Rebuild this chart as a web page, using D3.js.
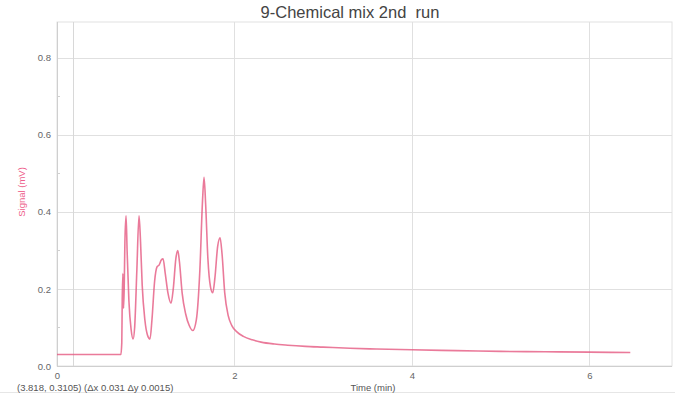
<!DOCTYPE html>
<html><head><meta charset="utf-8">
<script src="https://cdn.jsdelivr.net/npm/d3@7"></script>
<style>body{margin:0;background:#fff}svg{display:block;font-family:"Liberation Sans",Arial,sans-serif}text{white-space:pre}</style>
</head><body><svg id="c" width="675" height="398"></svg>
<script>
const title = "9-Chemical mix 2nd  run";
const xLabel = "Time (min)";
const yLabel = "Signal (mV)";
const cursorText = "(3.818, 0.3105) (\u0394x 0.031 \u0394y 0.0015)";
const xTicks = [0, 2, 4, 6];
const yTicks = [0, 0.2, 0.4, 0.6, 0.8];
const yMinorTicks = [0.1, 0.3, 0.5, 0.7];
const cursorTime = 0.18;
const times = [0, 0.72, 0.73, 0.735, 0.742, 0.75, 0.757, 0.765, 0.778, 0.79, 0.81, 0.835, 0.857, 0.875, 0.9, 0.924, 0.94, 0.96, 0.99, 1.02, 1.048, 1.07, 1.1, 1.127, 1.15, 1.175, 1.195, 1.22, 1.25, 1.285, 1.31, 1.34, 1.361, 1.38, 1.41, 1.45, 1.49, 1.53, 1.57, 1.61, 1.64, 1.657, 1.675, 1.7, 1.73, 1.755, 1.78, 1.81, 1.838, 1.86, 1.89, 1.93, 1.97, 2.03, 2.1, 2.2, 2.3, 2.45, 2.6, 2.8, 3.0, 3.3, 3.6, 4.0, 4.5, 5.0, 5.5, 6.0, 6.46];
const signal = [0.03, 0.03, 0.06, 0.17, 0.24, 0.15, 0.2, 0.32, 0.39, 0.30, 0.17, 0.095, 0.07, 0.10, 0.25, 0.39, 0.33, 0.21, 0.12, 0.08, 0.07, 0.12, 0.22, 0.257, 0.262, 0.275, 0.278, 0.24, 0.19, 0.163, 0.20, 0.28, 0.30, 0.27, 0.19, 0.135, 0.105, 0.092, 0.12, 0.25, 0.43, 0.49, 0.42, 0.28, 0.205, 0.19, 0.23, 0.31, 0.333, 0.29, 0.19, 0.13, 0.105, 0.088, 0.077, 0.068, 0.062, 0.057, 0.054, 0.051, 0.049, 0.046, 0.044, 0.042, 0.040, 0.038, 0.037, 0.036, 0.035];

const svg = d3.select("#c");
const L = 57, R = 672, T = 22, B = 366;
const x = d3.scaleLinear().domain([0, 6.93]).range([L, R]);
const y = d3.scaleLinear().domain([0, 0.893]).range([B, T]);

// frame
svg.append("rect").attr("x", L).attr("y", T).attr("width", R - L).attr("height", B - T)
  .attr("fill", "none").attr("stroke", "#e2e2e2");
svg.append("line").attr("x1", 0).attr("x2", 675).attr("y1", 392.5).attr("y2", 392.5).attr("stroke", "#e6e6e6");

// grid
const g = svg.append("g");
g.selectAll(".hg").data(yTicks).join("line")
  .attr("x1", L).attr("x2", R).attr("y1", d => Math.round(y(d)) + 0.5).attr("y2", d => Math.round(y(d)) + 0.5)
  .attr("stroke", d => d === 0 ? "#cfcfcf" : "#e0e0e0");
g.selectAll(".vg").data(xTicks.filter(d => d > 0)).join("line")
  .attr("y1", T).attr("y2", B).attr("x1", d => Math.round(x(d)) + 0.5).attr("x2", d => Math.round(x(d)) + 0.5)
  .attr("stroke", "#e0e0e0");
g.append("line").attr("y1", T).attr("y2", B).attr("x1", Math.round(x(cursorTime)) + 0.5).attr("x2", Math.round(x(cursorTime)) + 0.5)
  .attr("stroke", "#d8d8d8");
g.append("line").attr("y1", T).attr("y2", B).attr("x1", L + 0.5).attr("x2", L + 0.5).attr("stroke", "#cfcfcf");

// axes
const yAxis = d3.axisLeft(y).tickValues(yTicks).tickFormat(d3.format(".1f")).tickSize(0).tickPadding(6);
const ya = svg.append("g").attr("transform", `translate(${L},0)`).call(yAxis);
ya.select(".domain").remove();
ya.selectAll("text").attr("fill", "#666").style("font-size", "9.5px");
svg.append("g").selectAll("line").data(yMinorTicks).join("line")
  .attr("x1", L).attr("x2", L + 3).attr("y1", d => Math.round(y(d)) + 0.5).attr("y2", d => Math.round(y(d)) + 0.5)
  .attr("stroke", "#d0d0d0");

const xAxis = d3.axisBottom(x).tickValues(xTicks).tickFormat(d3.format("d")).tickSize(0).tickPadding(6);
const xa = svg.append("g").attr("transform", `translate(0,${B})`).call(xAxis);
xa.select(".domain").remove();
xa.selectAll("text").attr("fill", "#666").style("font-size", "9.5px");

// series
const data = times.map((t, i) => ({ t, v: signal[i] }));
svg.append("path").datum(data)
  .attr("fill", "none").attr("stroke", "#e4557d").attr("stroke-opacity", 0.78).attr("stroke-width", 1.6)
  .attr("stroke-linejoin", "round")
  .attr("d", d3.line().x(d => x(d.t)).y(d => y(d.v)).curve(d3.curveMonotoneX));

// texts
svg.append("text").attr("x", 350).attr("y", 18).attr("text-anchor", "middle")
  .attr("fill", "#444").style("font-size", "16.5px").text(title);
svg.append("text").attr("x", 373).attr("y", 391).attr("text-anchor", "middle")
  .attr("fill", "#555").style("font-size", "9.5px").text(xLabel);
svg.append("text").attr("x", 17).attr("y", 391)
  .attr("fill", "#555").style("font-size", "9.5px").text(cursorText);
svg.append("text").attr("transform", "translate(25,192) rotate(-90)").attr("text-anchor", "middle")
  .attr("fill", "#ee5f8c").style("font-size", "9.5px").text(yLabel);
</script></body></html>
